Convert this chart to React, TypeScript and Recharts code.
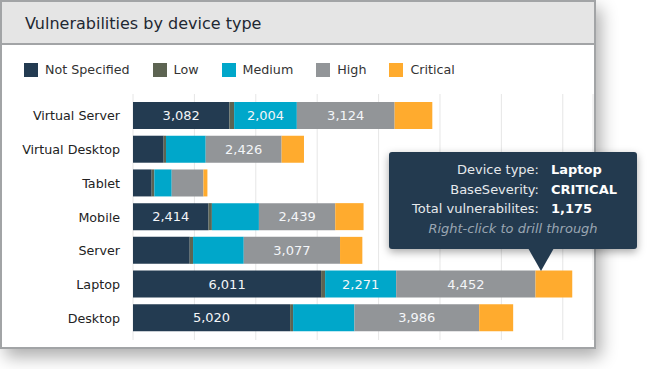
import React from 'react';
import { BarChart, Bar, XAxis, YAxis, CartesianGrid, Tooltip, Legend, LabelList } from 'recharts';

const categories = ['Virtual Server', 'Virtual Desktop', 'Tablet', 'Mobile', 'Server', 'Laptop', 'Desktop'];
const notSpecified = [3082, 980, 597, 2414, 1812, 6011, 5020];
const low = [150, 75, 85, 107, 107, 128, 96];
const medium = [2004, 1268, 555, 1503, 1620, 2271, 1960];
const high = [3124, 2426, 1013, 2439, 3077, 4452, 3986];
const critical = [1205, 715, 128, 905, 713, 1175, 1087];
const gridTicks = [0, 1962, 3924, 5886, 7848, 9810, 11772, 13734];

const data = categories.map((c, i) => ({
  device: c,
  notSpecified: notSpecified[i],
  low: low[i],
  medium: medium[i],
  high: high[i],
  critical: critical[i],
}));

const FONT = '"DejaVu Sans", Verdana, sans-serif';

const series = [
  { key: 'notSpecified', name: 'Not Specified', color: '#233b51' },
  { key: 'low', name: 'Low', color: '#5d6452' },
  { key: 'medium', name: 'Medium', color: '#00a7ca' },
  { key: 'high', name: 'High', color: '#929598' },
  { key: 'critical', name: 'Critical', color: '#ffab2e' },
];

const fmt = (v: any) => (typeof v === 'number' && v >= 2000 ? v.toLocaleString('en-US') : '');

const LegendContent = (props: any) => {
  const items = series;
  return (
    <div style={{ display: 'flex', alignItems: 'center', fontFamily: FONT, fontSize: 12.7, color: '#333', lineHeight: '14px', whiteSpace: 'nowrap' }}>
      {items.map((s) => (
        <div key={s.key} style={{ display: 'flex', alignItems: 'center', marginRight: 23 }}>
          <span style={{ display: 'inline-block', width: 14, height: 14, background: s.color, marginRight: 7 }} />
          <span>{s.name}</span>
        </div>
      ))}
    </div>
  );
};

const TooltipBox = (props: any) => {
  const { payload, label } = props;
  const crit = payload && payload.find((p: any) => p.dataKey === 'critical');
  const value = crit ? crit.value : 0;
  const rowLabel: React.CSSProperties = { textAlign: 'right', color: '#e6e9ec' };
  const rowVal: React.CSSProperties = { fontWeight: 'bold', color: '#ffffff' };
  return (
    <div style={{ position: 'relative', width: 248, height: 97, background: '#233a4f', borderRadius: 3, boxShadow: '0 3px 8px rgba(0,0,0,0.35)', fontFamily: FONT, fontSize: 13, boxSizing: 'border-box', paddingTop: 8 }}>
      <div style={{ display: 'grid', gridTemplateColumns: '150px auto', columnGap: 12, lineHeight: '19.7px' }}>
        <div style={rowLabel}>Device type:</div>
        <div style={rowVal}>{label}</div>
        <div style={rowLabel}>BaseSeverity:</div>
        <div style={rowVal}>CRITICAL</div>
        <div style={rowLabel}>Total vulnerabilites:</div>
        <div style={rowVal}>{Number(value).toLocaleString('en-US')}</div>
        <div style={{ gridColumn: '1 / span 2', textAlign: 'center', fontStyle: 'italic', color: '#9aa6b2' }}>Right-click to drill through</div>
      </div>
      <div style={{ position: 'absolute', left: 139, top: 96, width: 0, height: 0, borderLeft: '13px solid transparent', borderRight: '13px solid transparent', borderTop: '23px solid #233a4f' }} />
    </div>
  );
};

export default function App() {
  return (
    <div style={{ position: 'absolute', left: 0, top: 0, width: 656, height: 369, background: '#fff', fontFamily: FONT }}>
      <div style={{ position: 'absolute', left: 0, top: 0, width: 596, height: 349, boxSizing: 'border-box', border: '2px solid #a2a4a6', background: '#fff', boxShadow: '5px 8px 16px rgba(0,0,0,0.32)' }}>
        <div style={{ height: 41, borderBottom: '2px solid #a2a4a6', background: '#e5e5e5', boxSizing: 'content-box' }}>
          <div style={{ paddingLeft: 23, lineHeight: '41px', paddingTop: 1, fontSize: 16, color: '#1e2832' }}>Vulnerabilities by device type</div>
        </div>
      </div>
      <div style={{ position: 'absolute', left: 0, top: 0 }}>
        <BarChart
          width={656}
          height={369}
          data={data}
          layout="vertical"
          barSize={27}
          margin={{ top: 94, right: 63, bottom: 29, left: 0 }}
        >
          <CartesianGrid horizontal={false} vertical stroke="#e6e6e6" />
          <XAxis type="number" domain={[0, 14700]} ticks={gridTicks} hide />
          <YAxis
            type="category"
            dataKey="device"
            width={133}
            axisLine={false}
            tickLine={false}
            tickSize={0}
            tickMargin={13}
            padding={{ top: 5, bottom: 5 }}
            tick={{ fill: '#222', fontSize: 12.7, fontFamily: FONT }}
          />
          <Legend
            layout="horizontal"
            verticalAlign="middle"
            align="center"
            content={<LegendContent />}
            wrapperStyle={{ position: 'absolute', top: 63, left: 24, width: 'auto', height: 14 }}
          />
          {series.map((s) => (
            <Bar key={s.key} dataKey={s.key} name={s.name} stackId="a" fill={s.color} isAnimationActive={false}>
              <LabelList dataKey={s.key} position="center" fill="#f4f6f8" fontSize={13} fontFamily={FONT} formatter={fmt} />
            </Bar>
          ))}
          <Tooltip
            active
            defaultIndex={5}
            position={{ x: 389, y: 152 }}
            cursor={false}
            isAnimationActive={false}
            allowEscapeViewBox={{ x: true, y: true }}
            content={<TooltipBox />}
            wrapperStyle={{ outline: 'none', zIndex: 10 }}
          />
        </BarChart>
      </div>
    </div>
  );
}
